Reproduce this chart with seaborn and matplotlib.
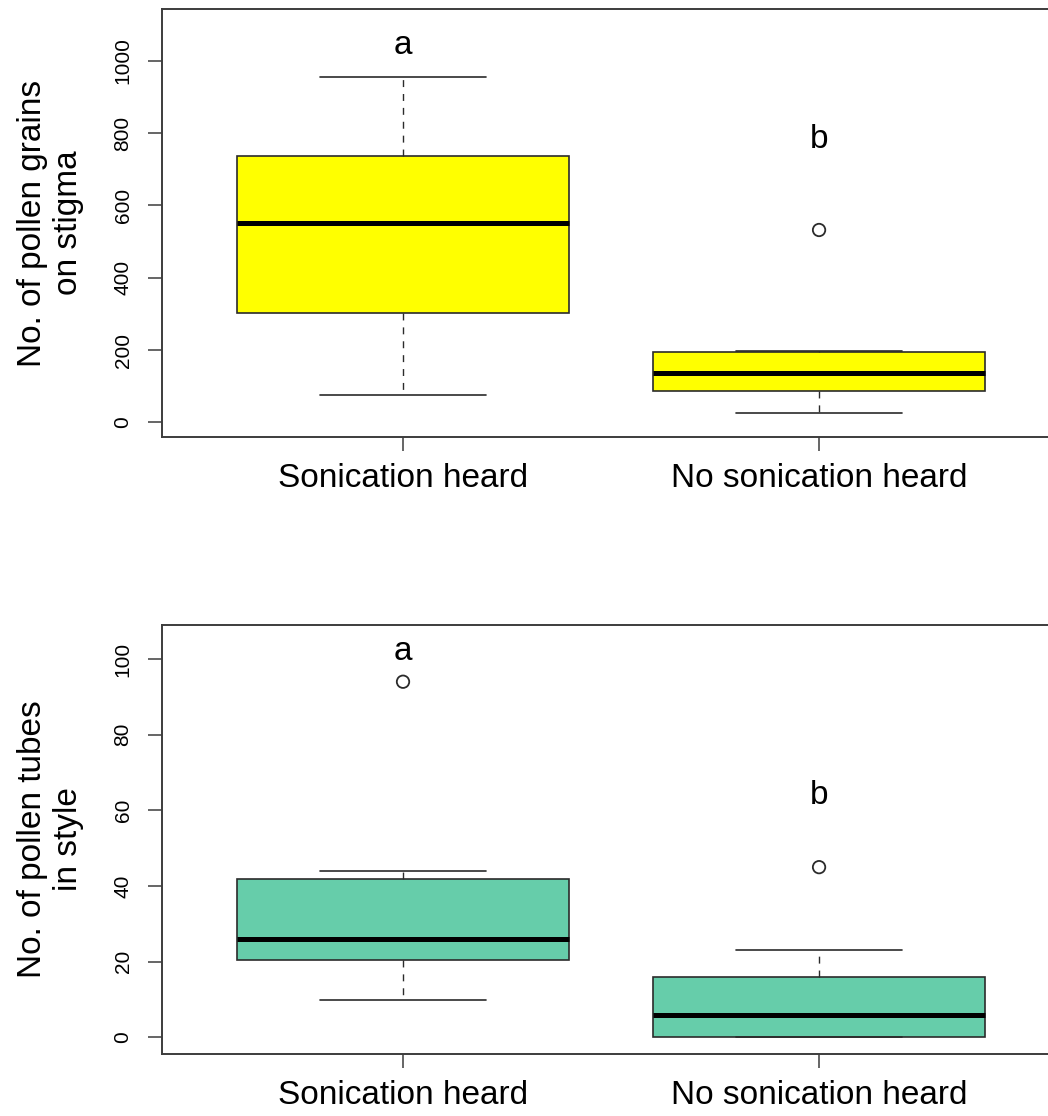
import numpy as np
import pandas as pd
import matplotlib
matplotlib.use("Agg")
import matplotlib.pyplot as plt
import seaborn as sns

# ---- data -------------------------------------------------------------
groups = ["Sonication heard", "No sonication heard"]

# pollen grains on stigma: five-number summary per group
grains_low = [75, 26]
grains_q1 = [302, 87]
grains_median = [551, 137]
grains_q3 = [736, 195]
grains_high = [955, 197]
grains_outlier_group = ["No sonication heard"]
grains_outlier_value = [532]
grains_letters = ["a", "b"]
grains_letter_y = [1018, 759]
grains_ticks = [0, 200, 400, 600, 800, 1000]

# pollen tubes in style: five-number summary per group
tubes_low = [10, 0]
tubes_q1 = [20.4, 0]
tubes_median = [26, 6]
tubes_q3 = [42, 16]
tubes_high = [44, 23]
tubes_outlier_group = ["Sonication heard", "No sonication heard"]
tubes_outlier_value = [94, 45]
tubes_letters = ["a", "b"]
tubes_letter_y = [99.7, 61.6]
tubes_ticks = [0, 20, 40, 60, 80, 100]

# ---- style ------------------------------------------------------------
sns.set_style("ticks")
plt.rcParams["font.family"] = ["Liberation Sans", "DejaVu Sans"]
plt.rcParams["text.color"] = "black"
plt.rcParams["axes.labelcolor"] = "black"
plt.rcParams["xtick.labelcolor"] = "black"
plt.rcParams["ytick.labelcolor"] = "black"
LINE = "#2b2b2b"
FRAME = "#3c3c3c"


def summary_frame(low, q1, med, q3, high):
    rows = []
    for g, vals in zip(groups, zip(low, q1, med, q3, high)):
        for v in vals:
            rows.append({"group": g, "value": v})
    return pd.DataFrame(rows)


def draw_panel(ax, df, fill, out_groups, out_values, letters, letter_y,
               ticks, ylim, ylabel):
    sns.boxplot(data=df, x="group", y="value", order=groups, ax=ax,
                color=fill, saturation=1, width=0.8, linecolor=LINE,
                linewidth=1.2, showfliers=False, whis=1.5)
    box = ax.containers[-1]
    for m in box.medians:
        m.set_linewidth(3.6)
        m.set_color("black")
        m.set_solid_capstyle("butt")
    for w in box.whiskers:
        w.set_linestyle((0, (5, 5)))
        w.set_linewidth(1.0)
        w.set_color(LINE)
    for c in box.caps:
        c.set_linewidth(1.2)
        c.set_color(LINE)
    for b in box.boxes:
        b.set_edgecolor(LINE)
        b.set_linewidth(1.2)

    out_x = [groups.index(g) for g in out_groups]
    sns.scatterplot(x=out_x, y=out_values, ax=ax, marker="o", s=80,
                    facecolor="none", edgecolor=LINE, linewidth=1.3,
                    zorder=5)

    for i, (lab, y) in enumerate(zip(letters, letter_y)):
        ax.text(i, y, lab, ha="center", va="baseline", fontsize=24,
                color="black")

    ax.set_xlim(-0.58, 1.58)
    ax.set_ylim(*ylim)
    ax.set_yticks(ticks)
    ax.set_yticklabels([str(t) for t in ticks], rotation=90,
                       va="center", ha="right")
    ax.set_xticks(range(len(groups)))
    ax.set_xticklabels(groups)
    ax.tick_params(axis="y", labelsize=15, length=10, width=1.1,
                   color=FRAME, pad=11, labelcolor="black")
    ax.tick_params(axis="x", labelsize=24, length=10, width=1.1,
                   color=FRAME, pad=9, labelcolor="black")
    ax.set_xlabel("")
    ax.set_ylabel(ylabel, fontsize=24, linespacing=1.2, color="black")
    ax.yaxis.set_label_coords(-0.087, 0.5)
    for sp in ax.spines.values():
        sp.set_visible(True)
        sp.set_color(FRAME)
        sp.set_linewidth(1.4)


fig = plt.figure(figsize=(10.48, 11.16), dpi=100)
ax1 = fig.add_axes([0.1543, 0.6084, 0.8575, 0.3835])
ax2 = fig.add_axes([0.1543, 0.0558, 0.8575, 0.3842])

draw_panel(ax1,
           summary_frame(grains_low, grains_q1, grains_median, grains_q3,
                         grains_high),
           "#FFFF00", grains_outlier_group, grains_outlier_value,
           grains_letters, grains_letter_y, grains_ticks, (-40.5, 1143),
           "No. of pollen grains\non stigma")

draw_panel(ax2,
           summary_frame(tubes_low, tubes_q1, tubes_median, tubes_q3,
                         tubes_high),
           "#66CDAA", tubes_outlier_group, tubes_outlier_value,
           tubes_letters, tubes_letter_y, tubes_ticks, (-4.3, 109),
           "No. of pollen tubes\nin style")

fig.savefig("out.png", dpi=100)
